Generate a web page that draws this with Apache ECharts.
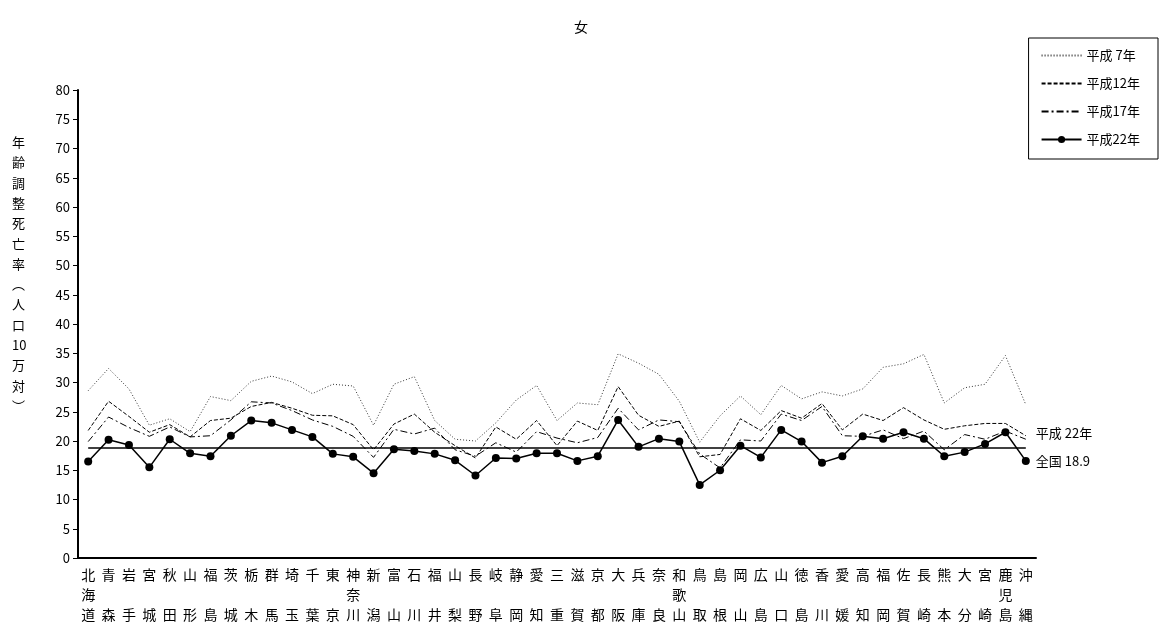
<!DOCTYPE html>
<html><head><meta charset="utf-8">
<script src="https://cdn.jsdelivr.net/npm/echarts@6/dist/echarts.min.js"></script>
<style>html,body{margin:0;padding:0;background:#fff}#c{width:1162px;height:637px}</style>
</head><body><div id="c"></div>
<script>
const categories = ['北海道','青森','岩手','宮城','秋田','山形','福島','茨城','栃木','群馬','埼玉','千葉','東京','神奈川','新潟','富山','石川','福井','山梨','長野','岐阜','静岡','愛知','三重','滋賀','京都','大阪','兵庫','奈良','和歌山','鳥取','島根','岡山','広島','山口','徳島','香川','愛媛','高知','福岡','佐賀','長崎','熊本','大分','宮崎','鹿児島','沖縄'];
const h7  = [28.6,32.4,28.9,22.7,23.8,21.6,27.6,26.9,30.2,31.1,30.1,28.1,29.7,29.4,22.7,29.7,31.0,23.5,20.3,20.0,23.1,27.0,29.5,23.5,26.5,26.2,34.9,33.3,31.4,26.8,19.8,24.3,27.7,24.5,29.5,27.2,28.4,27.7,28.9,32.6,33.2,34.8,26.5,29.1,29.7,34.6,26.2];
const h12 = [21.8,26.8,24.2,21.5,22.8,20.7,23.5,23.9,25.9,26.6,25.6,24.4,24.3,22.8,18.5,22.9,24.6,21.5,19.2,17.1,22.4,20.3,23.5,19.2,23.4,21.8,29.3,24.4,22.5,23.4,17.3,17.7,23.8,21.8,25.2,23.9,26.4,21.9,24.6,23.5,25.7,23.6,22.0,22.6,23.0,23.0,20.9];
const h17 = [19.9,24.1,22.3,20.8,22.4,20.7,20.9,23.6,26.7,26.5,25.2,23.6,22.5,20.8,17.2,22.0,21.2,22.2,18.5,17.4,19.7,18.1,21.6,20.5,19.7,20.6,25.6,21.9,23.6,23.3,17.8,15.4,20.2,20.0,24.6,23.5,25.9,20.9,20.8,21.9,20.4,21.7,18.5,21.1,20.3,21.7,20.3];
const h22 = [16.5,20.2,19.3,15.5,20.3,17.9,17.4,20.9,23.5,23.1,21.9,20.7,17.8,17.3,14.5,18.6,18.3,17.8,16.7,14.1,17.1,17.0,17.9,17.9,16.6,17.4,23.6,19.0,20.4,19.9,12.5,15.0,19.2,17.2,21.9,19.9,16.3,17.4,20.8,20.4,21.5,20.4,17.4,18.1,19.5,21.5,16.6];
const nationalAvg = 18.9;
const seriesNames = ['平成 7年','平成12年','平成17年','平成22年'];
const yAxisName = ['年','齢','調','整','死','亡','率','︵','人','口','10','万','対','︶'];

const FONT = '"Noto Sans CJK JP", "Noto Sans CJK SC", sans-serif';
const noMarker = { color: 'rgba(0,0,0,0)', borderWidth: 0 };
const chart = echarts.init(document.getElementById('c'));
chart.setOption({
  animation: false,
  textStyle: { fontFamily: FONT, color: '#000' },
  title: { text: '女', left: 'center', top: 15, textStyle: { fontSize: 14, fontWeight: 'normal', color: '#000', fontFamily: FONT } },
  grid: { left: 78, right: 126, top: 90, bottom: 79 },
  legend: {
    orient: 'vertical', right: 4, top: 38,
    itemWidth: 40, itemHeight: 9, itemGap: 15,
    padding: [11, 18, 13, 12],
    borderColor: '#000', borderWidth: 1,
    textStyle: { fontSize: 13, color: '#000', fontFamily: FONT },
    data: [
      { name: seriesNames[0], itemStyle: noMarker },
      { name: seriesNames[1], itemStyle: noMarker },
      { name: seriesNames[2], itemStyle: noMarker },
      { name: seriesNames[3] }
    ]
  },
  xAxis: {
    type: 'category', data: categories, boundaryGap: true,
    axisLine: { lineStyle: { color: '#000', width: 2 } },
    axisTick: { show: false },
    axisLabel: {
      interval: 0, color: '#000', fontSize: 14, lineHeight: 20, margin: 7, fontFamily: FONT,
      formatter: v => v.length === 2 ? v[0] + '\n\n' + v[1] : v.split('').join('\n')
    }
  },
  yAxis: {
    type: 'value', min: 0, max: 80, interval: 5,
    axisLine: { show: true, lineStyle: { color: '#000', width: 2 } },
    axisTick: { show: true, length: 5, lineStyle: { color: '#000' } },
    splitLine: { show: false },
    axisLabel: { color: '#000', fontSize: 13, margin: 8, fontFamily: FONT }
  },
  graphic: [{
    type: 'text', left: 12, top: 132,
    style: { text: yAxisName.join('\n'), fontSize: 13, lineHeight: 20.3, fill: '#000', fontFamily: FONT, align: 'center' }
  }],
  series: [
    { name: seriesNames[0], type: 'line', data: h7, symbol: 'none', lineStyle: { color: '#333', width: 1, type: [1, 2] }, itemStyle: { color: '#333' } },
    { name: seriesNames[1], type: 'line', data: h12, symbol: 'none', lineStyle: { color: '#000', width: 1, type: [4, 2] }, itemStyle: { color: '#000' } },
    { name: seriesNames[2], type: 'line', data: h17, symbol: 'none', lineStyle: { color: '#000', width: 1, type: [7, 3, 2, 3] }, itemStyle: { color: '#000' } },
    { name: seriesNames[3], type: 'line', data: h22, symbol: 'circle', symbolSize: 8, lineStyle: { color: '#000', width: 1.5 }, itemStyle: { color: '#000' },
      markLine: {
        silent: true, symbol: 'none',
        lineStyle: { color: '#000', width: 1.5, type: 'solid' },
        label: { position: 'end', distance: 10, formatter: '平成 22年\n全国 ' + nationalAvg, fontSize: 13, lineHeight: 28, color: '#000', fontFamily: FONT },
        data: [[{ coord: [categories[0], nationalAvg] }, { coord: [categories[categories.length - 1], nationalAvg] }]]
      }
    }
  ]
});
</script></body></html>
